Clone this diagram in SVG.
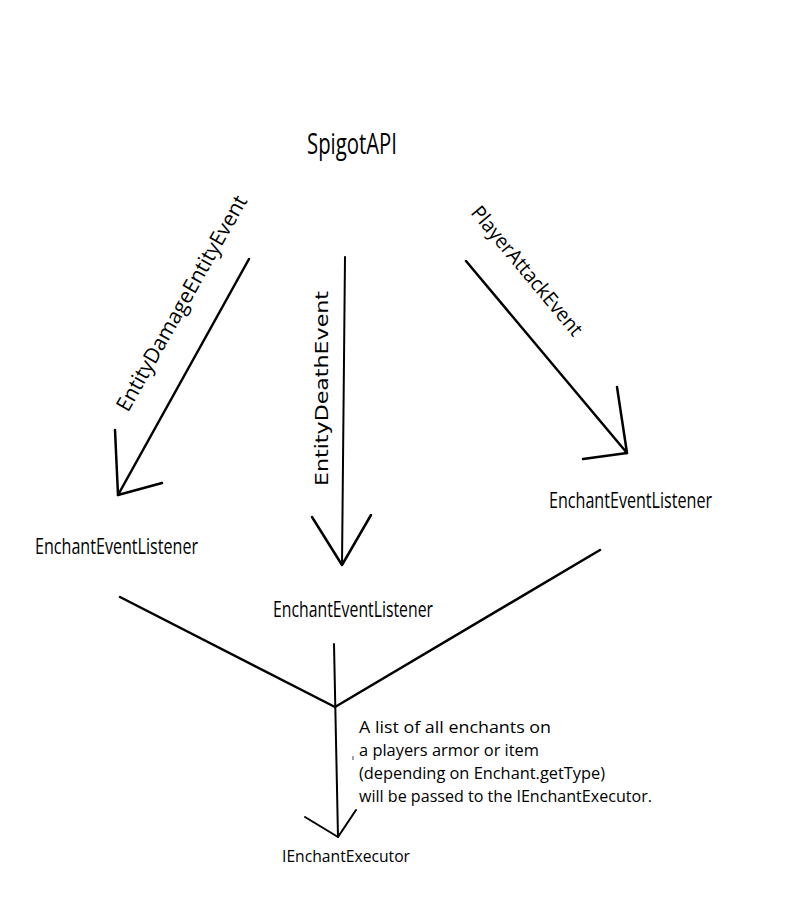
<svg xmlns="http://www.w3.org/2000/svg" width="800" height="900" viewBox="0 0 800 900">
<style>
.lbl{font-family:"Open Sans",Lato,"Liberation Sans",sans-serif;fill:#000}
.v{font-family:"DejaVu Sans","Liberation Sans",sans-serif;fill:#000}
.ln{stroke:#000;stroke-width:2.5;fill:none;stroke-linecap:round;stroke-linejoin:round}
.thin{stroke:#000;stroke-width:2;fill:none;stroke-linecap:round;stroke-linejoin:round}
</style>
<rect width="800" height="900" fill="#fff"/>
<g id="spigotapi">
<text class="lbl" x="307" y="154" font-size="30" textLength="90" lengthAdjust="spacingAndGlyphs">SpigotAPI</text>
</g>
<g id="listener-left">
<text class="lbl" x="35" y="554" font-size="22" textLength="163" lengthAdjust="spacingAndGlyphs">EnchantEventListener</text>
</g>
<g id="listener-middle">
<text class="lbl" x="273" y="617" font-size="22" textLength="160" lengthAdjust="spacingAndGlyphs">EnchantEventListener</text>
</g>
<g id="listener-right">
<text class="lbl" x="549" y="508" font-size="22" textLength="163" lengthAdjust="spacingAndGlyphs">EnchantEventListener</text>
</g>
<g id="executor">
<text class="lbl" x="282" y="862" font-size="17" textLength="128" lengthAdjust="spacingAndGlyphs">IEnchantExecutor</text>
</g>
<g id="connectors">
<line class="ln" x1="249" y1="259" x2="118" y2="495"/>
<polyline class="ln" points="115,430 118,495 162,483"/>
<text class="lbl" font-size="21" transform="translate(128,413) rotate(-60.6)" textLength="244" lengthAdjust="spacingAndGlyphs">EntityDamageEntityEvent</text>
<line class="thin" x1="345" y1="257" x2="342" y2="565"/>
<polyline class="ln" points="312,517 342,565 371,515"/>
<text class="v" font-size="18" transform="translate(328,486) rotate(-90)" textLength="195" lengthAdjust="spacingAndGlyphs">EntityDeathEvent</text>
<line class="ln" x1="466" y1="261" x2="627" y2="453"/>
<polyline class="ln" points="617,387 627,453 583,459"/>
<text class="lbl" font-size="20" transform="translate(470,213) rotate(50.3)" textLength="162" lengthAdjust="spacingAndGlyphs">PlayerAttackEvent</text>
<polyline class="ln" points="120,597 335,707 600,550"/>
<line class="thin" x1="334" y1="644" x2="338" y2="837"/>
<polyline class="thin" points="305,817 338,837 356,810"/>
<line stroke="#444" stroke-width="1" x1="353" y1="756" x2="353" y2="760"/>
<g class="lbl" font-size="17">
<text x="359" y="733" textLength="192" lengthAdjust="spacingAndGlyphs">A list of all enchants on</text>
<text x="359" y="756" textLength="180" lengthAdjust="spacingAndGlyphs">a players armor or item</text>
<text x="359" y="779" textLength="246" lengthAdjust="spacingAndGlyphs">(depending on Enchant.getType)</text>
<text x="359" y="802" textLength="293" lengthAdjust="spacingAndGlyphs">will be passed to the IEnchantExecutor.</text>
</g>
</g>
</svg>
